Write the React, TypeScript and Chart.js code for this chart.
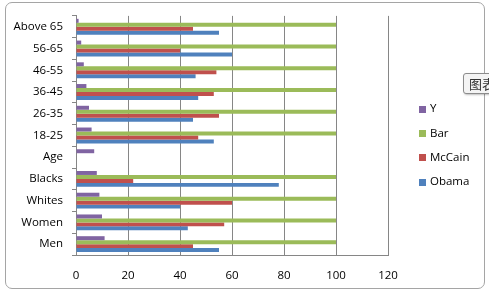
import React, { useEffect, useRef } from 'react';
import { Chart, registerables } from 'chart.js';

Chart.register(...registerables);

// Categories listed top to bottom as they appear
const categories = ['Above 65', '56-65', '46-55', '36-45', '26-35', '18-25', 'Age', 'Blacks', 'Whites', 'Women', 'Men'];
const seriesY = [1, 2, 3, 4, 5, 6, 7, 8, 9, 10, 11];
const seriesBar = [100, 100, 100, 100, 100, 100, null, 100, 100, 100, 100];
const seriesMcCain = [45, 40, 54, 53, 55, 47, null, 22, 60, 57, 45];
const seriesObama = [55, 60, 46, 47, 45, 53, null, 78, 40, 43, 55];
const xTickValues = [0, 20, 40, 60, 80, 100, 120];
const seriesNames = ['Y', 'Bar', 'McCain', 'Obama'];
const seriesColors = ['#8064A2', '#9BBB59', '#C0504D', '#4F81BD'];

const FONT = "'Open Sans', 'Noto Sans', sans-serif";
const FONT_SIZE = 11.5;
const GRID = '#868686';

const sideLegend = {
  id: 'sideLegend',
  afterDraw(chart: any, _args: any, opts: any) {
    const ctx = chart.ctx;
    ctx.save();
    ctx.font = `${FONT_SIZE}px ${FONT}`;
    ctx.textBaseline = 'middle';
    ctx.textAlign = 'left';
    chart.data.datasets.forEach((ds: any, i: number) => {
      const cy = opts.top + i * opts.gap;
      ctx.fillStyle = ds.backgroundColor;
      ctx.fillRect(opts.left, Math.round(cy - 3.5), 7, 7);
      ctx.fillStyle = '#000';
      ctx.fillText(ds.label, opts.left + 11, cy);
    });
    ctx.restore();
  },
};

export default function App() {
  const canvasRef = useRef<HTMLCanvasElement | null>(null);

  useEffect(() => {
    const seriesData = [seriesY, seriesBar, seriesMcCain, seriesObama];
    const chart = new Chart(canvasRef.current as HTMLCanvasElement, {
      type: 'bar',
      data: {
        labels: categories,
        datasets: seriesNames.map((name, i) => ({
          label: name,
          data: seriesData[i],
          backgroundColor: seriesColors[i],
          borderWidth: 0,
          categoryPercentage: 0.73,
          barPercentage: 1,
        })),
      },
      options: {
        indexAxis: 'y',
        responsive: false,
        animation: false,
        devicePixelRatio: 1,
        layout: { padding: { left: 0, right: 101, top: 15, bottom: 8 } },
        plugins: {
          legend: { display: false },
          tooltip: { enabled: false },
          sideLegend: { left: 419, top: 109, gap: 24.4 },
        } as any,
        scales: {
          x: {
            type: 'linear',
            min: 0,
            max: 120,
            afterBuildTicks: (scale: any) => {
              scale.ticks = xTickValues.map((v) => ({ value: v }));
            },
            afterFit: (scale: any) => {
              scale.height = 34;
            },
            ticks: {
              color: '#000',
              font: { family: FONT, size: FONT_SIZE },
              padding: 14,
            },
            grid: { color: GRID, drawTicks: false, lineWidth: 1 },
            border: { display: true, color: GRID },
          },
          y: {
            type: 'category',
            afterFit: (scale: any) => {
              scale.width = 76;
            },
            ticks: {
              color: '#000',
              font: { family: FONT, size: FONT_SIZE },
              padding: 9,
            },
            grid: {
              display: true,
              drawOnChartArea: false,
              drawTicks: true,
              tickLength: 4,
              color: GRID,
              offset: true,
            },
            border: { display: true, color: GRID },
          },
        },
      },
      plugins: [sideLegend],
    });
    return () => chart.destroy();
  }, []);

  return (
    <div
      style={{
        position: 'fixed',
        left: 0,
        top: 0,
        width: 489,
        height: 297,
        overflow: 'hidden',
        background: '#ffffff',
      }}
    >
      <div
        style={{
          position: 'absolute',
          left: 5,
          top: 2,
          width: 480,
          height: 287,
          border: '1px solid #a5a5a5',
          borderRadius: 7,
          boxSizing: 'border-box',
          background: '#ffffff',
        }}
      />
      <canvas
        ref={canvasRef}
        width={489}
        height={297}
        style={{ position: 'absolute', left: 0, top: 0, display: 'block' }}
      />
      <div
        style={{
          position: 'absolute',
          left: 463,
          top: 73,
          width: 40,
          height: 21,
          border: '1px solid #8c8c8c',
          borderRadius: 3,
          boxSizing: 'border-box',
          background: '#f4f4f4',
          boxShadow: '1px 1px 2px rgba(0,0,0,0.25)',
          fontFamily: "'Noto Sans CJK SC', sans-serif",
          fontSize: 13,
          lineHeight: '19px',
          paddingLeft: 5,
          color: '#333',
          whiteSpace: 'nowrap',
        }}
      >
        图表
      </div>
    </div>
  );
}
